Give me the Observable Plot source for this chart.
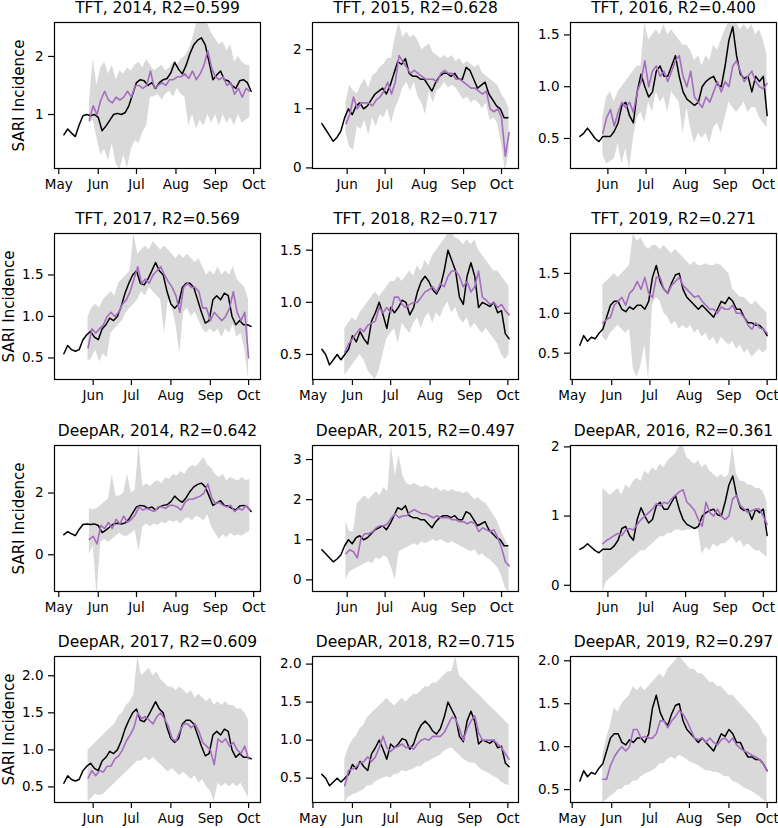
<!DOCTYPE html>
<html><head><meta charset="utf-8">
<script src="https://cdn.jsdelivr.net/npm/d3@7"></script>
<script src="https://cdn.jsdelivr.net/npm/@observablehq/plot@0.6"></script>
<style>
body{margin:0;background:#fff;}
#wrap{position:relative;width:778px;height:828px;overflow:hidden;background:#fff;}
.panel{position:absolute;}
</style></head>
<body><div id="wrap"></div>
<script>
// ---------- data ----------
const STEP = 3; // days between readings
const years = [2014, 2015, 2016, 2017, 2018, 2019];
const obsStart = [4, 11, 9, 8, 7, 6];      // day offset from May 1
const predStart = [24, 30, 27, 27, 25, 24];
const tftR2 = ["0.599", "0.628", "0.400", "0.569", "0.717", "0.271"];
const deepR2 = ["0.642", "0.497", "0.361", "0.609", "0.715", "0.297"];
const tftYDomain = [[0.07,2.585],[-0.01,2.46],[0.21,1.62],[0.24,2.0],[0.26,1.66],[0.17,2.0]];
const deepYDomain = [[-1.19,3.54],[-0.29,3.35],[-0.09,2.02],[0.29,2.26],[0.18,2.1],[0.35,2.05]];
const tftYTicks = [["1","2"],["0","1","2"],["0.5","1.0","1.5"],["0.5","1.0","1.5"],["0.5","1.0","1.5"],["0.5","1.0","1.5"]];
const deepYTicks = [["0","2"],["0","1","2","3"],["0","1","2"],["0.5","1.0","1.5","2.0"],["0.5","1.0","1.5","2.0"],["0.5","1.0","1.5","2.0"]];
const yLabel = "SARI Incidence";

const obs2014 = [0.65,0.75,0.68,0.62,0.82,0.98,1.0,0.98,1.0,0.95,0.72,0.8,0.9,1.0,1.02,1.0,1.03,1.15,1.35,1.55,1.6,1.58,1.5,1.55,1.45,1.55,1.6,1.62,1.72,1.9,1.78,1.7,1.85,2.05,2.2,2.28,2.32,2.2,1.9,1.6,1.68,1.75,1.6,1.58,1.5,1.45,1.58,1.6,1.55,1.4];
const obs2015 = [0.75,0.65,0.55,0.45,0.52,0.62,0.85,1.0,0.9,1.05,1.1,1.0,1.05,1.15,1.25,1.3,1.35,1.25,1.4,1.6,1.8,1.75,1.85,1.6,1.55,1.55,1.5,1.5,1.4,1.3,1.45,1.55,1.6,1.6,1.55,1.6,1.5,1.5,1.7,1.65,1.5,1.35,1.4,1.45,1.25,1.15,1.05,1.0,0.85,0.85];
const obs2016 = [0.52,0.55,0.6,0.55,0.5,0.47,0.52,0.52,0.52,0.57,0.65,0.82,0.85,0.72,0.65,0.95,1.12,1.0,0.9,0.95,1.15,1.2,1.1,1.1,1.2,1.3,1.1,0.95,0.88,0.85,0.82,0.85,1.0,1.05,1.08,1.1,1.02,1.0,1.2,1.45,1.58,1.3,1.12,1.08,1.1,0.95,1.1,1.05,1.1,0.72];
const obs2017 = [0.55,0.65,0.6,0.58,0.6,0.72,0.78,0.82,0.75,0.72,0.85,0.9,0.98,0.95,1.0,1.12,1.28,1.4,1.5,1.55,1.4,1.38,1.45,1.55,1.65,1.55,1.5,1.3,1.15,1.1,1.15,1.35,1.4,1.4,1.35,1.2,1.05,0.92,0.95,1.2,1.25,1.2,1.28,1.25,1.0,0.9,0.95,0.9,0.9,0.88];
const obs2018 = [0.55,0.5,0.4,0.45,0.5,0.45,0.5,0.55,0.68,0.62,0.72,0.65,0.6,0.82,0.9,1.0,0.88,0.75,0.95,0.9,0.95,1.02,1.0,0.88,0.95,1.1,1.2,1.25,1.2,1.12,1.08,1.15,1.3,1.5,1.4,1.3,1.05,0.98,1.25,1.38,1.25,0.95,1.0,0.98,0.96,1.0,0.9,0.92,0.7,0.65];
const obs2019 = [0.6,0.72,0.65,0.7,0.68,0.75,0.8,0.95,1.1,1.15,1.15,1.05,1.02,1.08,1.05,1.1,1.1,1.05,1.15,1.45,1.6,1.4,1.3,1.25,1.38,1.48,1.5,1.3,1.2,1.15,1.1,1.05,1.1,1.05,1.0,0.95,1.05,1.15,1.12,1.2,1.15,1.05,1.05,0.95,0.88,0.88,0.85,0.85,0.8,0.72];

const tftMean2014 = [0.9,1.15,1.0,1.25,1.4,1.25,1.2,1.3,1.25,1.3,1.4,1.3,1.5,1.5,1.45,1.5,1.75,1.45,1.5,1.55,1.5,1.6,1.6,1.65,1.65,1.7,1.62,1.75,1.6,1.7,1.85,2.1,1.8,1.65,1.6,1.65,1.5,1.55,1.35,1.45,1.3,1.45,1.4];
const tftLo2014 = [0.85,0.9,0.6,0.3,0.4,0.2,0.5,0.15,0.05,0.3,0.08,0.4,0.55,0.5,0.7,0.8,1.3,1.3,1.35,1.25,1.35,1.4,1.3,1.45,1.35,1.3,0.8,1.0,0.75,0.9,0.8,1.0,0.85,1.0,0.8,1.0,0.85,0.95,0.8,1.0,0.85,0.9,0.95];
const tftHi2014 = [1.2,1.95,1.5,1.8,1.9,1.7,1.85,1.6,1.75,1.7,1.8,1.75,1.85,1.9,1.8,1.95,1.85,1.75,1.8,1.85,1.75,1.8,1.9,1.85,1.95,2.0,2.1,2.3,2.55,2.6,2.6,2.55,2.4,2.3,2.2,2.25,2.1,2.2,1.9,2.0,1.9,1.85,1.85];
const tftMean2015 = [0.75,0.9,1.2,1.0,1.1,1.1,1.1,1.05,1.15,1.2,1.3,1.45,1.25,1.45,1.9,1.8,1.7,1.6,1.65,1.6,1.55,1.5,1.5,1.5,1.45,1.6,1.65,1.6,1.6,1.5,1.5,1.45,1.4,1.35,1.35,1.3,1.25,1.3,1.0,0.95,1.0,0.85,0.2,0.6];
const tftLo2015 = [0.6,0.35,0.3,0.7,0.65,0.8,0.55,0.85,0.7,0.9,0.85,1.0,0.75,1.0,1.15,1.35,1.45,1.3,1.45,1.2,1.1,0.9,1.3,1.1,1.3,1.35,1.45,1.35,1.4,1.35,1.25,1.15,1.2,1.1,1.15,1.1,1.0,1.1,0.8,0.85,0.75,0.4,-0.05,0.25];
const tftHi2015 = [1.1,1.4,1.3,1.25,1.4,1.5,1.35,1.55,1.6,1.7,1.75,1.85,1.85,2.2,2.46,2.2,2.3,2.2,2.25,2.15,2.0,2.05,2.1,1.95,1.9,1.85,1.9,1.85,1.9,1.8,1.85,1.75,1.8,1.75,1.7,1.75,1.6,1.55,1.5,1.45,1.4,1.25,1.15,1.0];
const tftMean2016 = [0.55,0.7,0.78,0.62,0.75,0.85,0.8,0.85,0.75,0.95,1.05,1.25,1.0,1.15,1.2,1.1,1.15,1.05,1.15,1.25,1.3,1.1,1.0,1.15,0.9,0.85,0.8,0.9,0.85,0.95,1.05,0.95,1.05,1.0,1.2,1.25,1.15,1.05,1.1,1.15,1.05,1.0,0.98,1.03];
const tftLo2016 = [0.35,0.25,0.28,0.3,0.45,0.25,0.4,0.2,0.5,0.7,0.75,0.65,0.85,0.75,0.95,0.85,0.9,0.75,0.95,0.9,0.85,0.55,0.8,0.6,0.45,0.55,0.5,0.55,0.45,0.6,0.65,0.55,0.7,0.85,0.8,0.75,0.8,0.85,0.75,0.8,0.8,0.7,0.65,0.6];
const tftHi2016 = [0.7,0.9,0.95,0.85,0.95,1.0,1.05,1.1,1.15,1.2,1.2,1.62,1.45,1.5,1.55,1.5,1.6,1.5,1.55,1.5,1.45,1.4,1.4,1.35,1.25,1.3,1.2,1.3,1.25,1.4,1.35,1.45,1.55,1.62,1.6,1.62,1.55,1.6,1.55,1.6,1.5,1.55,1.45,1.3];
const tftMean2017 = [0.62,0.85,0.8,0.85,0.9,1.0,1.05,1.0,1.05,1.15,1.2,1.3,1.45,1.6,1.4,1.45,1.4,1.5,1.55,1.6,1.5,1.42,1.35,1.25,1.05,1.35,1.4,1.35,1.35,1.3,1.1,1.1,0.95,1.05,1.0,0.95,1.0,1.1,1.3,1.05,0.95,1.05,0.5];
const tftLo2017 = [0.45,0.5,0.6,0.45,0.55,0.5,0.8,0.85,0.9,0.95,1.05,1.1,1.15,1.2,1.3,1.25,1.35,1.3,1.25,1.2,0.8,1.2,1.1,0.9,0.55,1.05,1.1,1.0,1.05,0.95,0.85,0.8,0.85,0.8,0.85,0.75,0.85,0.8,0.9,0.75,0.8,0.6,0.24];
const tftHi2017 = [1.0,1.1,1.15,1.1,1.2,1.25,1.3,1.25,1.4,1.45,1.5,1.55,2.0,1.75,1.8,1.85,1.8,1.9,1.85,1.8,1.85,1.8,1.75,1.7,1.75,1.7,1.75,1.7,1.65,1.7,1.6,1.5,1.55,1.5,1.6,1.5,1.55,1.5,1.6,1.45,1.4,1.35,1.2];
const tftMean2018 = [0.52,0.6,0.65,0.7,0.75,0.72,0.78,0.8,0.82,0.95,0.9,0.95,0.9,1.05,1.05,0.98,0.95,0.98,1.0,1.0,1.05,1.1,1.12,1.15,1.1,1.18,1.15,1.25,1.3,1.3,1.25,1.15,1.2,1.1,1.15,1.3,1.05,1.02,0.98,1.0,0.95,0.98,0.92,0.88];
const tftLo2018 = [0.3,0.35,0.4,0.45,0.5,0.45,0.35,0.3,0.26,0.35,0.5,0.65,0.7,0.75,0.6,0.8,0.75,0.7,0.8,0.85,0.75,0.85,0.9,0.8,0.9,0.85,0.95,1.0,0.9,0.95,0.85,0.8,0.85,0.75,0.8,0.75,0.7,0.75,0.7,0.65,0.6,0.5,0.45,0.5];
const tftHi2018 = [0.75,0.8,0.85,0.82,0.9,0.95,1.0,1.05,1.1,1.05,1.1,1.15,1.2,1.2,1.25,1.2,1.25,1.3,1.25,1.35,1.3,1.4,1.35,1.45,1.5,1.55,1.6,1.66,1.66,1.62,1.6,1.55,1.6,1.55,1.6,1.5,1.45,1.4,1.35,1.3,1.3,1.25,1.2,1.15];
const tftMean2019 = [0.88,0.92,0.95,1.1,1.15,1.2,1.1,1.25,1.3,1.4,1.3,1.45,1.25,1.2,1.45,1.45,1.3,1.25,1.35,1.4,1.45,1.35,1.3,1.25,1.2,1.22,1.15,1.1,1.05,1.05,1.0,1.08,1.05,1.05,1.1,1.0,1.0,0.95,0.85,0.8,0.88,0.82,0.8,0.75];
const tftLo2019 = [0.7,0.65,0.75,0.8,0.85,0.8,0.75,0.8,0.3,0.2,0.35,0.6,0.17,1.1,1.2,1.15,1.0,0.95,0.85,0.9,0.8,0.85,0.8,0.85,0.75,0.8,0.7,0.75,0.65,0.7,0.6,0.7,0.65,0.6,0.65,0.55,0.6,0.5,0.55,0.45,0.5,0.55,0.5,0.55];
const tftHi2019 = [1.35,1.4,1.45,1.5,1.45,1.5,1.55,1.6,2.0,1.9,1.95,1.85,1.8,1.85,1.85,1.8,1.85,1.8,1.75,1.8,1.75,1.7,1.65,1.6,1.65,1.6,1.6,1.62,1.6,1.6,1.62,1.6,1.55,1.5,1.3,1.25,1.2,1.2,1.15,1.1,1.15,1.1,1.05,1.0];

const deepMean2014 = [0.5,0.6,0.35,0.95,0.85,1.05,0.85,1.15,1.0,1.25,1.05,1.15,1.3,1.55,1.45,1.5,1.45,1.4,1.55,1.55,1.5,1.6,1.6,1.55,1.45,1.7,1.8,1.8,1.85,1.9,2.0,2.3,1.85,1.65,1.7,1.6,1.55,1.6,1.4,1.5,1.45,1.6,1.45];
const deepLo2014 = [0.0,0.3,-1.3,0.4,0.5,0.4,0.5,0.6,0.7,0.6,0.6,0.7,0.8,0.1,0.9,1.0,0.9,1.0,0.95,1.05,1.0,1.1,1.05,1.1,1.0,1.15,1.2,1.1,1.25,1.2,1.1,1.3,0.9,0.7,0.5,0.65,0.55,0.7,0.6,0.65,0.6,0.7,0.75];
const deepHi2014 = [1.5,1.45,1.5,1.6,1.7,1.8,2.6,1.9,1.9,2.0,2.6,2.0,2.1,3.6,2.2,2.3,2.2,2.35,2.4,2.3,2.5,2.45,2.6,2.55,2.7,2.6,2.8,2.9,2.85,3.0,3.15,2.9,2.8,2.6,2.5,2.6,2.4,2.5,2.45,2.4,2.5,2.4,2.45];
const deepMean2015 = [0.65,0.75,0.7,0.55,1.05,1.15,1.15,1.2,1.3,1.35,1.35,1.4,1.55,1.65,1.55,1.6,1.6,1.7,1.75,1.7,1.65,1.65,1.6,1.55,1.6,1.55,1.55,1.55,1.5,1.5,1.45,1.45,1.4,1.45,1.4,1.2,1.3,1.25,1.2,1.25,1.05,0.8,0.45,0.35];
const deepLo2015 = [0.0,0.2,0.25,0.3,0.35,0.4,0.45,0.4,0.55,0.5,0.6,0.55,0.3,0.0,0.7,0.75,0.8,0.85,0.9,0.85,0.95,0.9,0.95,1.0,0.95,1.0,0.95,0.9,0.95,0.9,0.85,0.8,0.75,0.7,0.75,0.6,0.65,0.55,0.5,0.4,0.3,0.1,-0.2,-0.3];
const deepHi2015 = [1.45,1.2,1.2,1.9,2.0,2.1,2.0,2.1,2.2,2.1,2.3,2.2,3.35,2.6,3.1,2.6,2.4,2.35,2.4,2.35,2.3,2.35,2.3,2.25,2.3,2.2,2.25,2.2,2.25,2.2,2.2,2.15,2.2,2.1,2.0,2.05,1.95,1.9,1.75,1.6,1.45,1.2,1.0,0.8];
const deepMean2016 = [0.6,0.65,0.68,0.72,0.75,0.72,0.8,0.82,0.8,0.88,0.95,1.0,1.05,1.1,1.18,1.15,1.2,1.18,1.25,1.3,1.35,1.38,1.2,1.15,1.08,0.95,0.85,1.2,1.05,1.0,1.1,1.0,0.95,1.0,1.25,1.3,1.15,1.1,1.05,1.08,1.1,1.1,1.0,0.88];
const deepLo2016 = [-0.1,0.05,0.1,0.15,0.2,0.25,0.3,0.35,0.4,0.45,0.5,0.5,0.55,0.6,0.65,0.7,0.7,0.75,0.75,0.8,0.8,0.78,0.8,0.8,0.82,0.8,0.45,0.55,0.5,0.6,0.55,0.6,0.6,0.65,0.7,0.6,0.65,0.55,0.6,0.55,0.5,0.5,0.45,0.4];
const deepHi2016 = [1.4,1.35,1.3,1.35,1.4,1.3,1.45,1.4,1.5,1.55,1.5,1.65,1.6,1.7,1.65,1.75,1.7,1.8,1.85,1.9,2.0,2.02,1.85,1.8,1.75,1.8,1.7,1.75,1.65,1.6,1.55,1.6,1.55,1.6,2.02,1.6,1.5,1.5,1.45,1.45,1.4,1.4,1.35,1.2];
const deepMean2017 = [0.62,0.72,0.65,0.72,0.7,0.78,0.78,0.88,0.92,1.0,1.12,1.2,1.3,1.5,1.42,1.45,1.4,1.35,1.45,1.5,1.42,1.32,1.15,1.12,1.25,1.35,1.35,1.3,1.35,1.25,1.1,1.05,1.0,0.8,1.15,1.1,1.15,1.05,1.1,1.0,0.95,1.05,0.88];
const deepLo2017 = [0.3,0.35,0.4,0.38,0.4,0.45,0.5,0.55,0.6,0.65,0.7,0.75,0.8,0.85,0.85,0.9,0.85,0.9,0.85,0.8,0.75,0.7,0.75,0.7,0.65,0.7,0.65,0.6,0.65,0.55,0.6,0.5,0.45,0.3,0.55,0.5,0.55,0.5,0.55,0.5,0.55,0.45,0.35];
const deepHi2017 = [1.0,1.05,1.1,1.15,1.2,1.25,1.3,1.35,1.45,1.5,1.6,1.65,1.75,2.26,2.0,2.05,2.1,2.0,2.05,1.95,1.9,1.85,1.85,1.8,1.85,1.8,1.75,1.8,1.7,1.75,1.7,1.65,1.7,1.6,1.65,1.6,1.65,1.6,1.6,1.55,1.55,1.5,1.4];
const deepMean2018 = [0.4,0.6,0.62,0.65,0.7,0.72,0.78,0.72,0.78,0.9,1.05,0.9,0.85,0.9,0.92,0.95,0.9,0.92,0.88,0.95,1.0,1.02,1.0,1.05,1.05,1.05,1.1,1.2,1.3,1.28,1.15,1.0,1.15,1.25,1.32,1.1,1.0,1.0,1.0,1.0,0.95,0.9,0.82,0.75];
const deepLo2018 = [0.18,0.25,0.28,0.3,0.32,0.35,0.4,0.4,0.45,0.48,0.5,0.52,0.5,0.55,0.55,0.6,0.58,0.6,0.62,0.65,0.65,0.7,0.72,0.75,0.78,0.8,0.85,0.88,0.9,0.85,0.8,0.75,0.72,0.7,0.7,0.65,0.6,0.58,0.55,0.52,0.5,0.45,0.42,0.4];
const deepHi2018 = [0.75,0.9,1.0,1.05,1.15,1.2,1.3,1.35,1.4,1.45,1.5,1.55,1.5,1.45,1.5,1.55,1.5,1.55,1.6,1.6,1.65,1.7,1.7,1.75,1.75,1.8,1.85,1.9,1.9,2.1,1.85,1.8,1.75,1.7,1.65,1.6,1.55,1.5,1.45,1.4,1.35,1.3,1.25,1.2];
const deepMean2019 = [0.62,0.62,0.78,0.88,0.95,1.0,0.95,1.0,1.2,1.2,1.1,1.12,1.1,1.1,1.15,1.3,1.3,1.22,1.3,1.35,1.42,1.38,1.3,1.2,1.1,1.08,1.1,1.05,1.1,1.05,1.02,1.08,1.1,1.05,1.1,1.02,0.98,0.95,0.93,0.9,0.88,0.85,0.8,0.72];
const deepLo2019 = [0.35,0.38,0.42,0.45,0.5,0.5,0.55,0.55,0.6,0.6,0.65,0.68,0.7,0.72,0.75,0.8,0.8,0.85,0.88,0.85,0.9,0.88,0.85,0.82,0.8,0.78,0.75,0.72,0.72,0.7,0.7,0.68,0.65,0.65,0.6,0.58,0.55,0.52,0.5,0.48,0.45,0.42,0.38,0.35];
const deepHi2019 = [0.9,1.1,1.25,1.45,1.4,1.5,1.55,1.6,1.7,1.65,1.7,1.65,1.7,1.75,1.8,1.85,1.8,1.9,1.95,2.0,2.05,2.0,1.95,1.9,1.9,1.85,1.85,1.8,1.75,1.75,1.7,1.7,1.65,1.6,1.6,1.55,1.5,1.45,1.4,1.35,1.3,1.25,1.15,1.1];

// ---------- assembly ----------
const obsAll = [obs2014, obs2015, obs2016, obs2017, obs2018, obs2019];
const models = [
  {name: "TFT", r2: tftR2, yDomain: tftYDomain, yTicks: tftYTicks,
   mean: [tftMean2014, tftMean2015, tftMean2016, tftMean2017, tftMean2018, tftMean2019],
   lo: [tftLo2014, tftLo2015, tftLo2016, tftLo2017, tftLo2018, tftLo2019],
   hi: [tftHi2014, tftHi2015, tftHi2016, tftHi2017, tftHi2018, tftHi2019]},
  {name: "DeepAR", r2: deepR2, yDomain: deepYDomain, yTicks: deepYTicks,
   mean: [deepMean2014, deepMean2015, deepMean2016, deepMean2017, deepMean2018, deepMean2019],
   lo: [deepLo2014, deepLo2015, deepLo2016, deepLo2017, deepLo2018, deepLo2019],
   hi: [deepHi2014, deepHi2015, deepHi2016, deepHi2017, deepHi2018, deepHi2019]}
];

const dayOf = (year, t) => new Date(Date.UTC(year, 4, 1 + t));

const colLeft = [54, 312, 570];
const rowTop = [22, 233, 445, 656];
const FW = 206, FH = 146;
const ML = 54, MT = 22, MB = 32, MR = 2;
const PURPLE = "#a66cc0", BAND = "#d9d9d9";

const wrap = document.getElementById("wrap");

models.forEach((m, mi) => {
  years.forEach((year, yi) => {
    const row = mi * 2 + Math.floor(yi / 3), col = yi % 3;
    const obs = obsAll[yi].map((v, i) => ({date: dayOf(year, obsStart[yi] + i * STEP), v}));
    const pred = m.mean[yi].map((v, i) => ({
      date: dayOf(year, predStart[yi] + i * STEP), mean: v, lo: m.lo[yi][i], hi: m.hi[yi][i]
    }));
    const ext = d3.extent([...obs.map(d => d.date), ...pred.map(d => d.date)]);
    const span = ext[1] - ext[0];
    const xDomain = [new Date(+ext[0] - 0.05 * span), new Date(+ext[1] + 0.05 * span)];
    const monthTicks = d3.utcMonth.range(d3.utcMonth.ceil(xDomain[0]), xDomain[1]);
    const tickLabels = m.yTicks[yi];
    const yTickVals = tickLabels.map(Number);
    const hasDecimal = tickLabels.some(s => s.includes("."));
    const title = `${m.name}, ${year}, R2=${m.r2[yi]}`;

    const marks = [
      Plot.areaY(pred, {x: "date", y1: "lo", y2: "hi", fill: BAND, clip: true}),
      Plot.lineY(obs, {x: "date", y: "v", stroke: "black", strokeWidth: 1.5, clip: true}),
      Plot.lineY(pred, {x: "date", y: "mean", stroke: PURPLE, strokeWidth: 1.6, clip: true}),
      Plot.frame({stroke: "black", strokeWidth: 1.2}),
      Plot.axisX({ticks: monthTicks, tickFormat: d3.utcFormat("%b"), tickSize: 6, tickPadding: 5, label: null, strokeWidth: 1.2}),
      Plot.axisY({ticks: yTickVals, tickFormat: (d) => tickLabels[yTickVals.indexOf(d)], tickSize: 6, tickPadding: 5, label: null, strokeWidth: 1.2}),
      Plot.text([title], {frameAnchor: "top", dy: -10, lineAnchor: "bottom", fontSize: 15.5, fill: "black"})
    ];
    if (col === 0) {
      marks.push(Plot.text([yLabel], {frameAnchor: "left", textAnchor: "middle", rotate: -90, dx: -(ML - (hasDecimal ? 9 : 19)), fontSize: 15, fill: "black"}));
    }

    const svg = Plot.plot({
      width: ML + FW + MR, height: MT + FH + MB,
      marginLeft: ML, marginRight: MR, marginTop: MT, marginBottom: MB,
      style: {fontFamily: "DejaVu Sans, sans-serif", fontSize: "13.5px", color: "black", background: "transparent", overflow: "visible"},
      x: {type: "utc", domain: xDomain},
      y: {domain: m.yDomain[yi]},
      marks
    });
    const div = document.createElement("div");
    div.className = "panel";
    div.style.left = (colLeft[col] - ML) + "px";
    div.style.top = (rowTop[row] - MT) + "px";
    div.appendChild(svg);
    wrap.appendChild(div);
  });
});
</script>
</body></html>
